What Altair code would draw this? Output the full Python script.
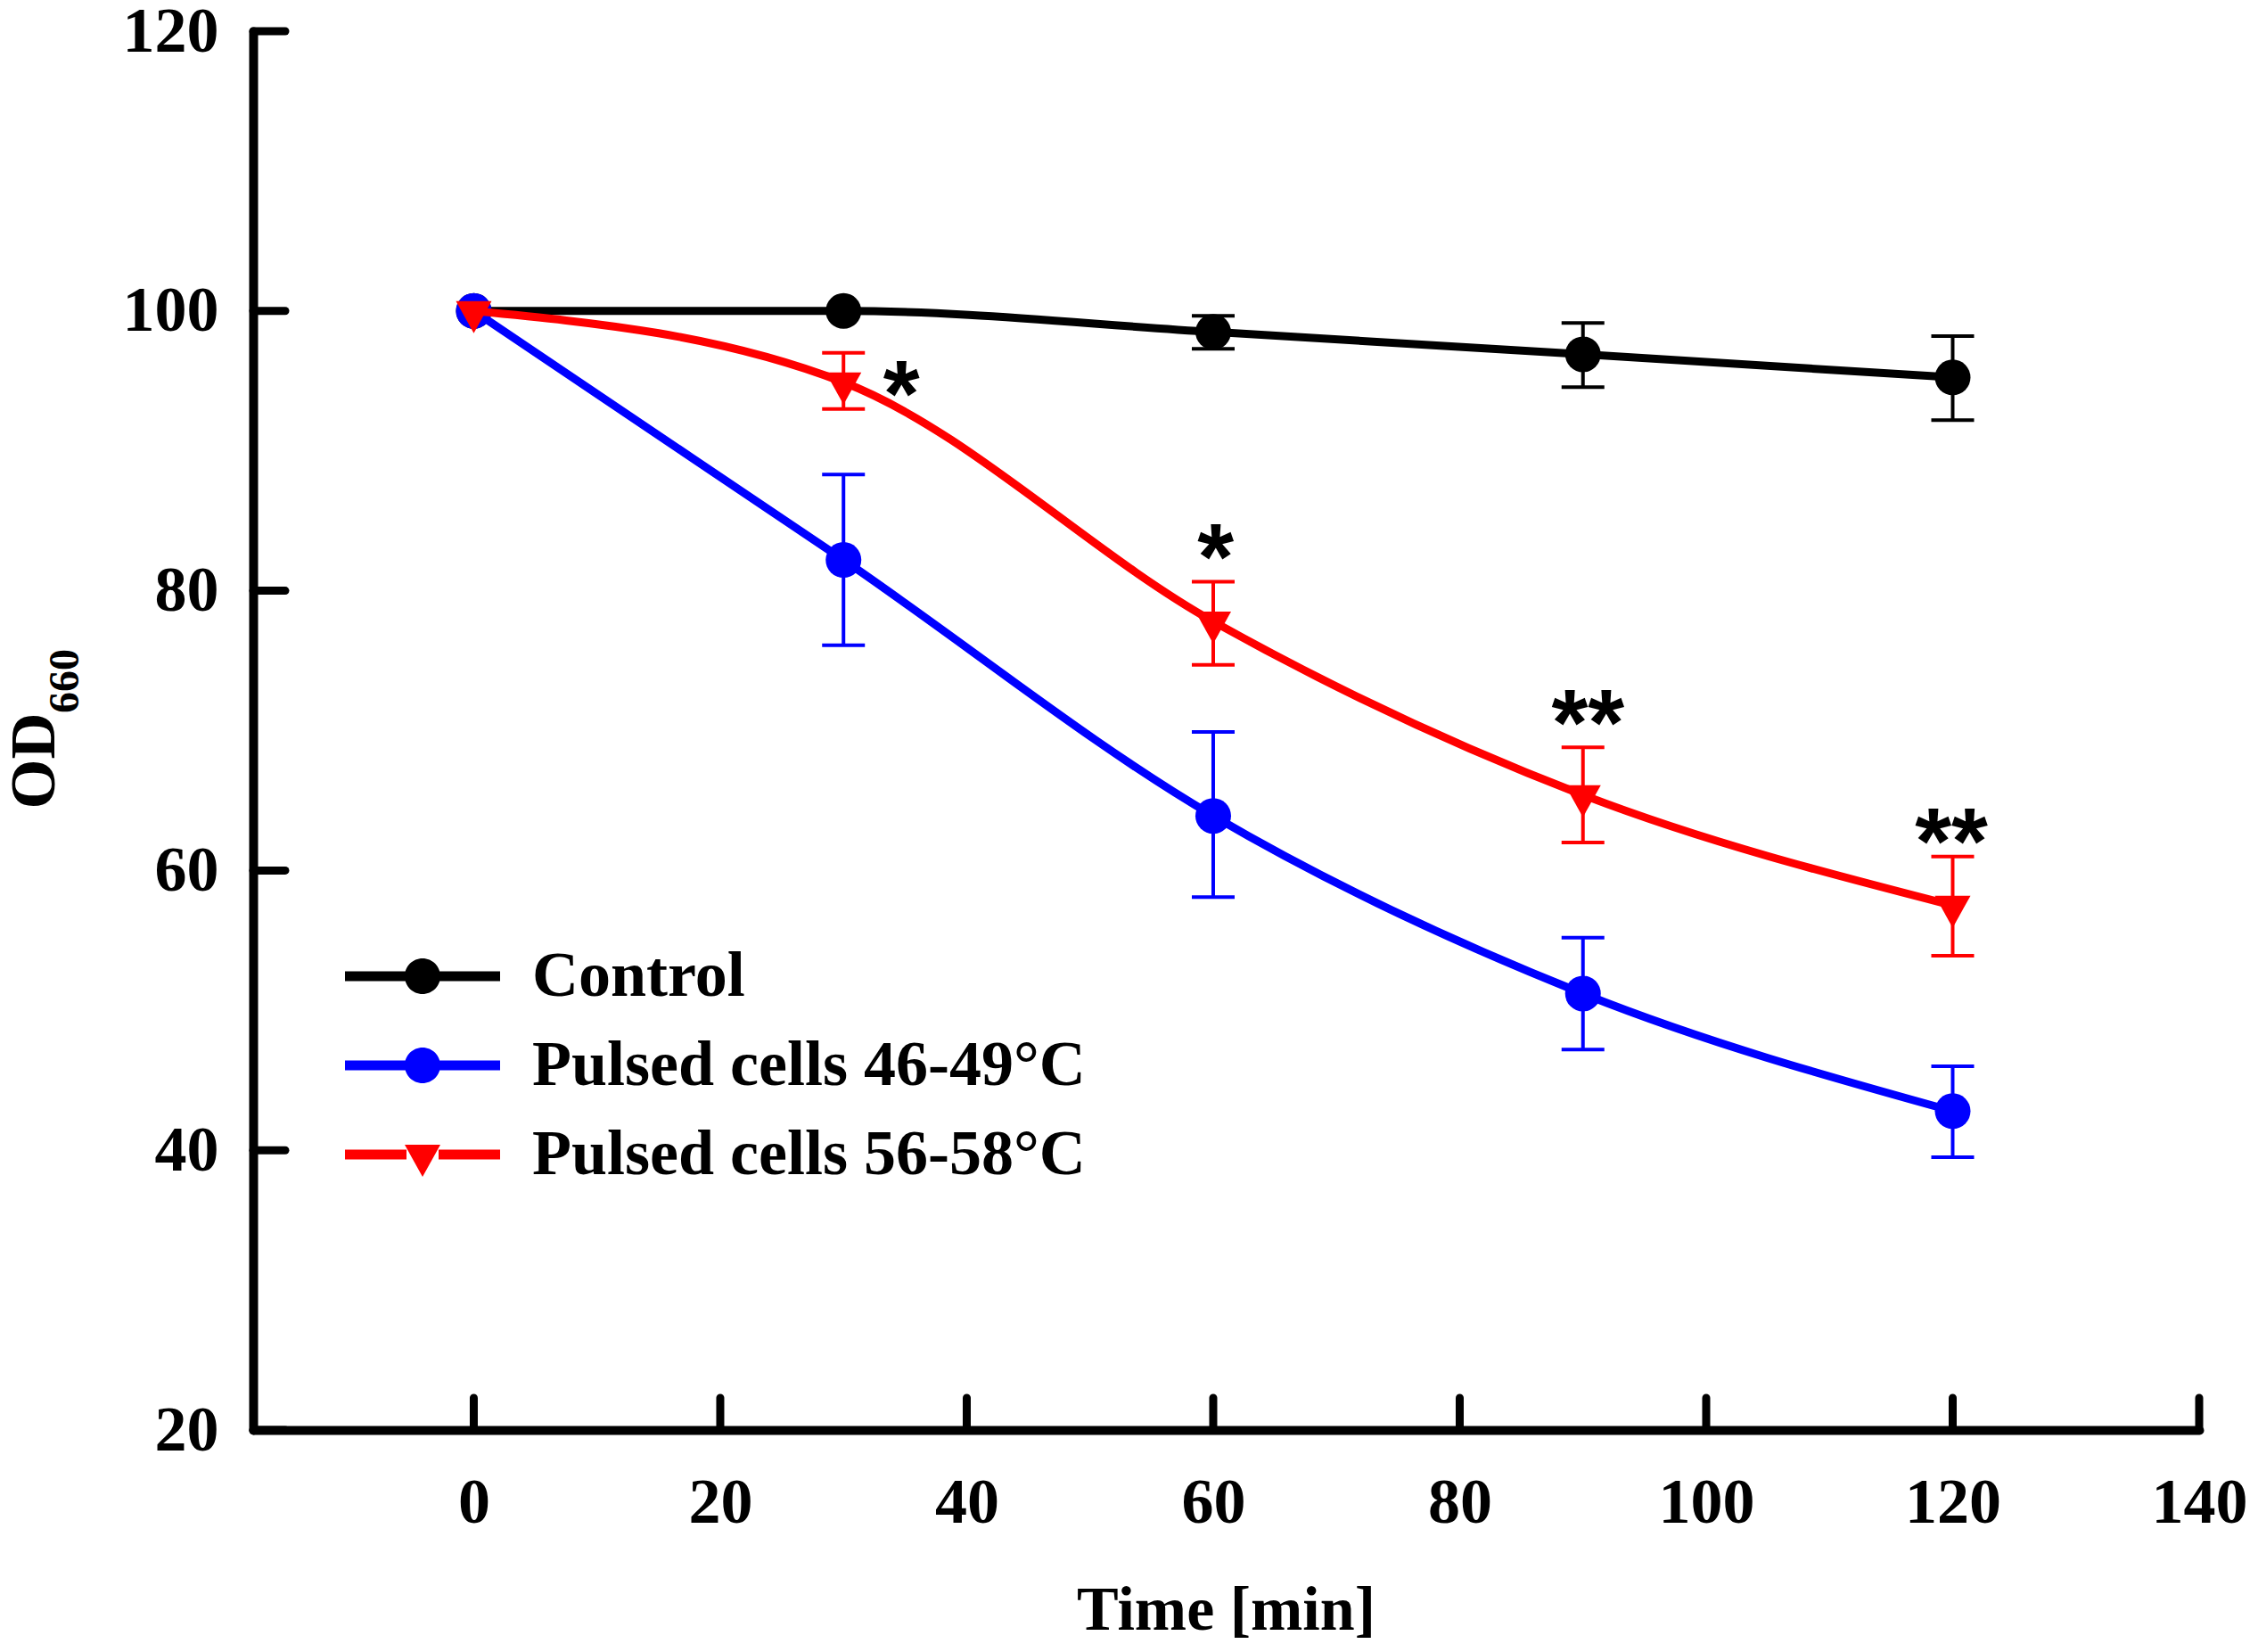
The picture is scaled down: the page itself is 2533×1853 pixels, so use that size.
import altair as alt
import pandas as pd

# ---------------- data ----------------
time_min = [0, 30, 60, 90, 120]

control = [100.0, 100.0, 98.5, 96.9, 95.25]
control_lo = [None, None, 97.3, 94.55, 92.2]
control_hi = [None, None, 99.65, 99.15, 98.2]

pulsed_46 = [100.0, 82.2, 63.9, 51.2, 42.8]
pulsed_46_lo = [None, 76.1, 58.1, 47.2, 39.5]
pulsed_46_hi = [None, 88.3, 69.9, 55.2, 46.0]

pulsed_56 = [100.0, 94.9, 77.8, 65.4, 57.5]
pulsed_56_lo = [None, 93.0, 74.7, 62.0, 53.9]
pulsed_56_hi = [None, 97.0, 80.65, 68.8, 61.0]

series_names = ["Control", "Pulsed cells 46-49°C", "Pulsed cells 56-58°C"]
series_colors = ["#000000", "#0000FF", "#FF0000"]

star_time = [34.7, 60.2, 90.4, 119.9]
star_value = [95.6, 83.9, 72.1, 63.6]
star_text = ["*", "*", "**", "**"]

x_ticks = [0, 20, 40, 60, 80, 100, 120, 140]
y_ticks = [20, 40, 60, 80, 100, 120]

# ---------------- layout / style ----------------
W, H = 2183, 1569
SERIF = "Liberation Serif"
SANS = "Liberation Sans"

TRI_PATH = "M-1,-0.55H1L0,1.25Z"
CIRCLE_LEGEND = ("M-4.35,-0.27H-0.9V0.27H-4.35Z M0.9,-0.27H4.35V0.27H0.9Z "
                 "M-1,0A1,1 0 1,1 1,0A1,1 0 1,1 -1,0Z")
TRI_LEGEND = ("M-4.35,-0.27H-0.9V0.27H-4.35Z M0.9,-0.27H4.35V0.27H0.9Z "
              "M-1,-0.55H1L0,1.25Z")
marker_shapes = ["circle", "circle", TRI_PATH]

x_scale = alt.Scale(domain=[-17.9, 140], nice=False, zero=False)
y_scale = alt.Scale(domain=[20, 120], nice=False, zero=False)

x_axis = alt.Axis(
    title="Time [min]", values=x_ticks, ticks=False, grid=False,
    labelFont=SERIF, labelFontSize=72, labelFontWeight="bold", labelColor="black",
    labelPadding=46, labelFlush=False, labelOverlap=False,
    domainColor="black", domainWidth=10, domainCap="round",
    titleFont=SERIF, titleFontSize=70, titleFontWeight="bold", titleColor="black",
    titleX=1091, titleY=223, titleBaseline="alphabetic",
)
y_axis = alt.Axis(
    title="OD", values=y_ticks, ticks=False, grid=False,
    labelFont=SERIF, labelFontSize=72, labelFontWeight="bold", labelColor="black",
    labelPadding=39, labelFlush=False, labelOverlap=False,
    domainColor="black", domainWidth=10, domainCap="round",
    titleFont=SERIF, titleFontSize=72, titleFontWeight="bold", titleColor="black",
    titleAngle=270, titleAlign="left", titleBaseline="alphabetic",
    titleX=-224, titleY=872,
)


def X(field="time"):
    return alt.X(f"{field}:Q", scale=x_scale, axis=x_axis)


def Y(field="value"):
    return alt.Y(f"{field}:Q", scale=y_scale, axis=y_axis)


layers = []
for name, vals, lo, hi, colr, shp in zip(
    series_names,
    [control, pulsed_46, pulsed_56],
    [control_lo, pulsed_46_lo, pulsed_56_lo],
    [control_hi, pulsed_46_hi, pulsed_56_hi],
    series_colors,
    marker_shapes,
):
    sdf = pd.DataFrame({"time": time_min, "value": vals, "lo": lo, "hi": hi})
    edf = sdf.dropna(subset=["lo", "hi"])
    layers.append(alt.Chart(edf).mark_rule(strokeWidth=4, color=colr).encode(
        x=X(), y=Y("lo"), y2="hi:Q"))
    layers.append(alt.Chart(edf).mark_tick(thickness=4, size=48, orient="horizontal",
                                           opacity=1, color=colr).encode(x=X(), y=Y("hi")))
    layers.append(alt.Chart(edf).mark_tick(thickness=4, size=48, orient="horizontal",
                                           opacity=1, color=colr).encode(x=X(), y=Y("lo")))
    layers.append(alt.Chart(sdf).mark_line(interpolate="monotone", strokeWidth=9,
                                           color=colr).encode(x=X(), y=Y()))
    layers.append(alt.Chart(sdf).mark_point(shape=shp, filled=True, size=1600, opacity=1,
                                            strokeWidth=0, color=colr).encode(x=X(), y=Y()))

stars = pd.DataFrame({"time": star_time, "value": star_value, "label": star_text})
layers.append(alt.Chart(stars).mark_text(
    font=SANS, fontSize=105, fontWeight="bold", color="black",
    baseline="alphabetic", align="center", dy=60,
).encode(x=X(), y=Y(), text="label:N"))

xt = pd.DataFrame({"time": x_ticks})
yt = pd.DataFrame({"value": y_ticks})
layers.append(alt.Chart(xt).mark_rule(strokeWidth=9, color="black", strokeCap="round").encode(
    x=X(), y=alt.value(H - 36), y2=alt.value(H)))
layers.append(alt.Chart(yt).mark_rule(strokeWidth=9, color="black", strokeCap="round").encode(
    y=Y(), x=alt.value(0), x2=alt.value(36)))

layers.append(alt.Chart(pd.DataFrame({"t": ["660"]})).mark_text(
    font=SERIF, fontSize=48, fontWeight="bold", color="black",
    angle=270, align="left", baseline="alphabetic",
).encode(x=alt.value(-196), y=alt.value(765), text="t:N"))

legend_def = alt.Legend(
    title=None, orient="none", legendX=87, legendY=1024,
    symbolSize=1600, symbolStrokeWidth=0, symbolOffset=67, labelOffset=87,
    labelFont=SERIF, labelFontSize=72, labelFontWeight="bold", labelColor="black",
    labelLimit=2000, rowPadding=28, padding=0, symbolOpacity=1,
)
legend_df = pd.DataFrame({"series": series_names})
layers.append(alt.Chart(legend_df).mark_point(filled=True, opacity=0, strokeWidth=0).encode(
    color=alt.Color("series:N", scale=alt.Scale(domain=series_names, range=series_colors),
                    legend=legend_def),
    shape=alt.Shape("series:N",
                    scale=alt.Scale(domain=series_names,
                                    range=[CIRCLE_LEGEND, CIRCLE_LEGEND, TRI_LEGEND]),
                    legend=legend_def),
    x=alt.value(-1000), y=alt.value(-1000),
))

chart = alt.layer(*layers).properties(
    width=W, height=H,
    autosize=alt.AutoSizeParams(type="none"),
    padding={"left": 276, "top": 27, "right": 58, "bottom": 241},
    background="white",
).configure_view(strokeWidth=0)

chart.save("out.html", embed_options={"renderer": "svg", "actions": False})
